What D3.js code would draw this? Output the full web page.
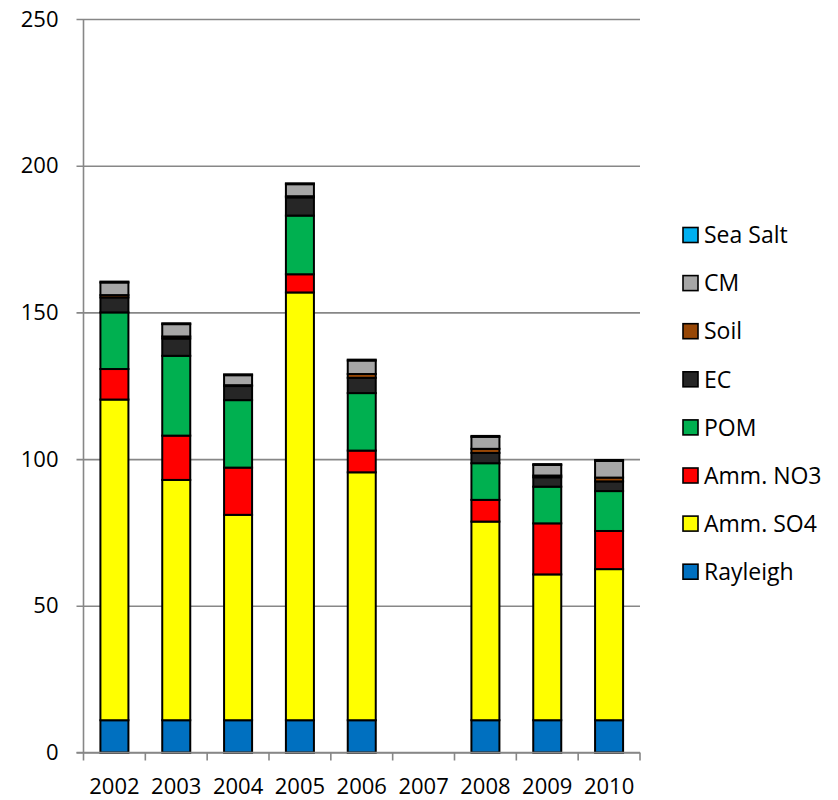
<!DOCTYPE html>
<html>
<head>
<meta charset="utf-8">
<script src="https://cdn.jsdelivr.net/npm/d3@7"></script>
<style>
  html, body { margin: 0; padding: 0; background: #fff; }
  svg { display: block; }
  text { font-family: "Open Sans", "Noto Sans", sans-serif; fill: #000; }
</style>
</head>
<body>
<svg id="chart" width="838" height="800"></svg>
<script>
const years = ["2002","2003","2004","2005","2006","2007","2008","2009","2010"];
const seriesNames = ["Rayleigh","Amm. SO4","Amm. NO3","POM","EC","Soil","CM","Sea Salt"];
const seriesColors = ["#0070C0","#FFFF00","#FF0000","#00B050","#262626","#974706","#A6A6A6","#00B0F0"];
const rayleigh = [11, 11, 11, 11, 11, 0, 11, 11, 11];
const ammSO4   = [109.3, 81.9, 70.0, 145.8, 84.5, 0, 67.7, 49.7, 51.5];
const ammNO3   = [10.4, 15.1, 16.1, 6.2, 7.4, 0, 7.4, 17.4, 13.0];
const pom      = [19.3, 27.2, 23.0, 20.0, 19.6, 0, 12.5, 12.5, 13.6];
const ec       = [5.1, 5.9, 4.8, 6.2, 5.2, 0, 3.5, 3.2, 3.3];
const soil     = [0.8, 0.7, 0.3, 0.4, 1.3, 0, 1.4, 0.6, 1.3];
const cm       = [4.3, 4.2, 3.4, 4.1, 4.6, 0, 4.1, 3.6, 5.7];
const seaSalt  = [0.3, 0.3, 0.3, 0.3, 0.3, 0, 0.3, 0.3, 0.3];
const yTicks = [0, 50, 100, 150, 200, 250];

const seriesValues = [rayleigh, ammSO4, ammNO3, pom, ec, soil, cm, seaSalt];
const table = years.map((yr, i) => {
  const row = { year: yr };
  seriesNames.forEach((s, k) => row[s] = seriesValues[k][i]);
  return row;
});

const svg = d3.select("#chart");
const mLeft = 83.5, mRight = 640, mTop = 19, mBottom = 752.5;

const x = d3.scaleBand().domain(years).range([mLeft, mRight])
  .paddingInner(0.547).paddingOuter(0.2735);
const y = d3.scaleLinear().domain([0, 250]).range([mBottom, mTop]);

// gridlines + y axis labels
const yAxis = svg.append("g").attr("transform", `translate(${mLeft},0)`)
  .call(d3.axisLeft(y).tickValues(yTicks).tickSizeInner(-(mRight - mLeft)).tickSizeOuter(0).tickPadding(25));
yAxis.select(".domain").remove();
yAxis.selectAll(".tick line").attr("stroke", "#878787").attr("stroke-width", 1.6)
  .attr("x1", -7);
yAxis.selectAll(".tick text")
  .style("font-size", "22px").style("font-family", '"Open Sans", sans-serif').attr("fill", "#000");

// y axis line
svg.append("line").attr("x1", mLeft).attr("x2", mLeft).attr("y1", mTop).attr("y2", mBottom)
  .attr("stroke", "#878787").attr("stroke-width", 1.6);

// stacked bars
const stack = d3.stack().keys(seriesNames);
const layers = stack(table);
svg.append("g").selectAll("g").data(layers).join("g")
  .attr("fill", (d, i) => seriesColors[i])
  .selectAll("rect").data(d => d.filter(v => v[1] - v[0] > 0)).join("rect")
  .attr("x", d => x(d.data.year))
  .attr("width", x.bandwidth())
  .attr("y", d => y(d[1]))
  .attr("height", d => y(d[0]) - y(d[1]))
  .attr("stroke", "#000").attr("stroke-width", 2);

// x axis
const xAxisG = svg.append("g").attr("transform", `translate(0,${mBottom})`);
xAxisG.append("line").attr("x1", mLeft - 7).attr("x2", mRight).attr("y1", 0).attr("y2", 0)
  .attr("stroke", "#878787").attr("stroke-width", 1.6);
const edges = years.map((yr, i) => mLeft + i * x.step()).concat([mRight]);
xAxisG.selectAll("line.tk").data(edges).join("line").attr("class", "tk")
  .attr("x1", d => d).attr("x2", d => d).attr("y1", 0).attr("y2", 8)
  .attr("stroke", "#878787").attr("stroke-width", 1.6);
xAxisG.selectAll("text").data(years).join("text")
  .attr("x", d => x(d) + x.bandwidth() / 2).attr("y", 41)
  .attr("text-anchor", "middle").style("font-size", "22px")
  .text(d => d);

// legend
const legendOrder = seriesNames.map((n, i) => ({ name: n, color: seriesColors[i] })).reverse();
const lg = svg.append("g");
legendOrder.forEach((d, i) => {
  const cy = 235 + i * 48.1;
  lg.append("rect").attr("x", 683).attr("y", cy - 7.5).attr("width", 15).attr("height", 15)
    .attr("fill", d.color).attr("stroke", "#000").attr("stroke-width", 1.6);
  lg.append("text").attr("x", 704).attr("y", cy).attr("dy", "0.36em")
    .style("font-size", "23px").text(d.name);
});
</script>
</body>
</html>
